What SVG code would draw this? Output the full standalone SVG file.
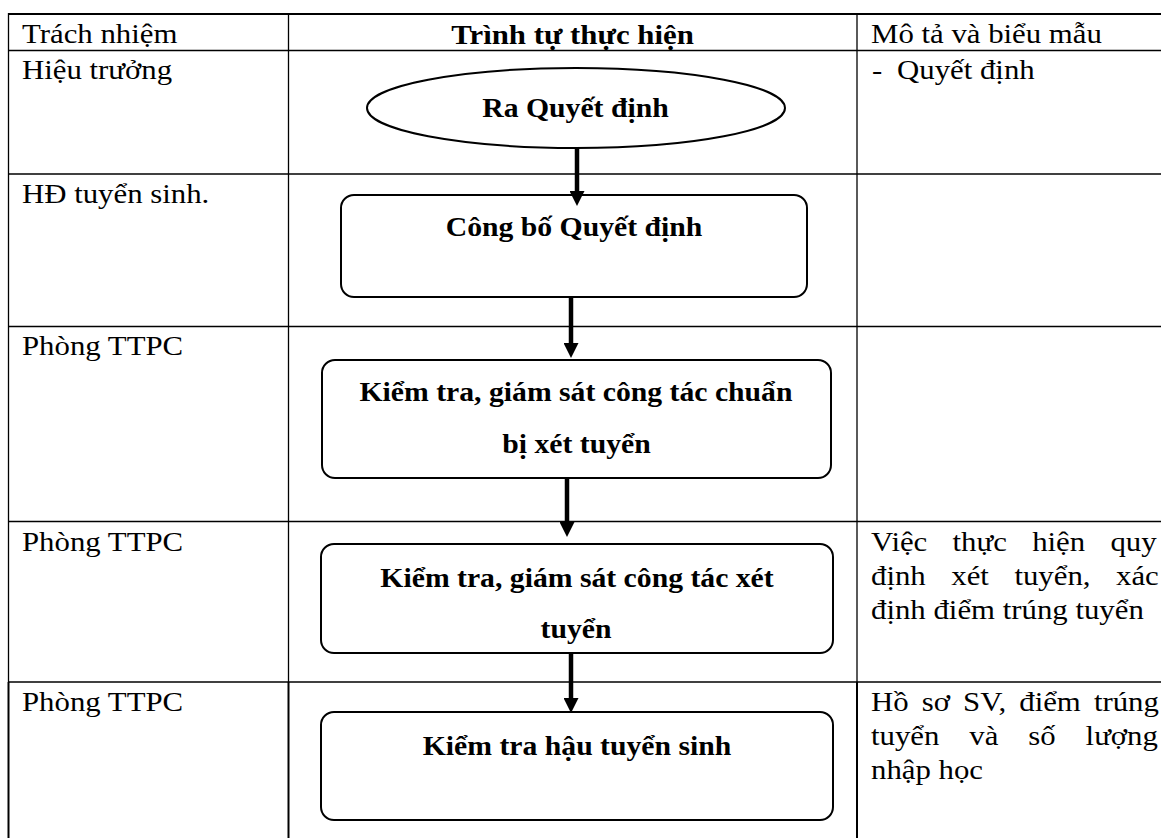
<svg xmlns="http://www.w3.org/2000/svg" width="1161" height="838" viewBox="0 0 1161 838">
  <style>
    .grid { stroke: #000; stroke-width: 1.3; fill: none; }
    .grid-heavy { stroke: #000; stroke-width: 2; fill: none; }
    .shape { fill: #fff; stroke: #000; stroke-width: 2; }
    .flow { stroke: #000; stroke-width: 4.5; fill: none; }
    .t { font-family: "Liberation Serif", "Times New Roman", "DejaVu Serif", serif; font-size: 28px; fill: #000; }
    .b { font-family: "Liberation Serif", "Times New Roman", "DejaVu Serif", serif; font-size: 27px; font-weight: bold; fill: #000; text-anchor: middle; }
    .hb { font-size: 28px; }
  </style>
  <defs>
    <marker id="arrowhead" markerUnits="userSpaceOnUse" viewBox="0 0 15 15" refX="1" refY="7.5" markerWidth="15" markerHeight="15" orient="auto">
      <path d="M0,0 L15,7.5 L0,15 Z" fill="#000"/>
    </marker>
  </defs>

  <rect x="0" y="0" width="1161" height="838" fill="#fff"/>

  <!-- table grid -->
  <g id="table">
    <line class="grid-heavy" x1="8" y1="14" x2="1161" y2="14"/>
    <line class="grid" x1="8" y1="50.5" x2="1161" y2="50.5"/>
    <line class="grid" x1="8" y1="174" x2="1161" y2="174"/>
    <line class="grid" x1="8" y1="326.5" x2="1161" y2="326.5"/>
    <line class="grid" x1="8" y1="521.5" x2="1161" y2="521.5"/>
    <line class="grid" x1="8" y1="682" x2="1161" y2="682"/>
    <line class="grid" x1="8.5" y1="13" x2="8.5" y2="682"/>
    <line class="grid" x1="288.5" y1="13" x2="288.5" y2="682"/>
    <line class="grid" x1="857" y1="13" x2="857" y2="682"/>
    <line class="grid-heavy" x1="8.5" y1="682" x2="8.5" y2="838"/>
    <line class="grid-heavy" x1="288.5" y1="682" x2="288.5" y2="838"/>
    <line class="grid-heavy" x1="857" y1="682" x2="857" y2="838"/>
  </g>

  <!-- column headers -->
  <g id="headers">
    <text class="t" transform="translate(22,43) scale(1.1,1)">Trách nhiệm</text>
    <text class="b hb" transform="translate(572.5,44) scale(1.1,1)">Trình tự thực hiện</text>
    <text class="t" transform="translate(871,43) scale(1.1,1)">Mô tả và biểu mẫu</text>
  </g>

  <!-- responsibility column -->
  <g id="roles">
    <text class="t" transform="translate(22,79) scale(1.1,1)">Hiệu trưởng</text>
    <text class="t" transform="translate(22,203) scale(1.1,1)">HĐ tuyển sinh.</text>
    <text class="t" transform="translate(22,355) scale(1.1,1)">Phòng TTPC</text>
    <text class="t" transform="translate(22,551) scale(1.1,1)">Phòng TTPC</text>
    <text class="t" transform="translate(22,711) scale(1.1,1)">Phòng TTPC</text>
  </g>

  <!-- description column -->
  <g id="notes">
    <text class="t" transform="translate(872,79) scale(1.1,1)">-</text>
    <text class="t" transform="translate(897,79) scale(1.1,1)">Quyết định</text>
    <text class="t" transform="translate(871,551) scale(1.1,1)" style="word-spacing:16px">Việc thực hiện quy</text>
    <text class="t" transform="translate(871,585) scale(1.1,1)" style="word-spacing:16.2px">định xét tuyển, xác</text>
    <text class="t" transform="translate(871,619) scale(1.1,1)">định điểm trúng tuyển</text>
    <text class="t" transform="translate(871,711) scale(1.1,1)" style="word-spacing:4.9px">Hồ sơ SV, điểm trúng</text>
    <text class="t" transform="translate(871,745) scale(1.1,1)" style="word-spacing:20.2px">tuyển và số lượng</text>
    <text class="t" transform="translate(871,779) scale(1.1,1)">nhập học</text>
  </g>

  <!-- process steps -->
  <g id="step-ra-quyet-dinh">
    <ellipse class="shape" cx="576" cy="108" rx="209" ry="40"/>
    <text class="b" transform="translate(575.5,117) scale(1.1,1)">Ra Quyết định</text>
  </g>

  <g id="step-cong-bo">
    <rect class="shape" x="341" y="195" width="466" height="102" rx="13" ry="13"/>
    <text class="b" transform="translate(574,236) scale(1.1,1)">Công bố Quyết định</text>
  </g>

  <g id="step-kiem-tra-chuan-bi">
    <rect class="shape" x="322" y="360" width="509" height="118" rx="13" ry="13"/>
    <text class="b" transform="translate(576,401) scale(1.1,1)">Kiểm tra, giám sát công tác chuẩn</text>
    <text class="b" transform="translate(576.5,453) scale(1.1,1)">bị xét tuyển</text>
  </g>

  <g id="step-kiem-tra-xet-tuyen">
    <rect class="shape" x="321" y="544" width="512" height="109" rx="13" ry="13"/>
    <text class="b" transform="translate(577,587) scale(1.1,1)">Kiểm tra, giám sát công tác xét</text>
    <text class="b" transform="translate(576,638) scale(1.1,1)">tuyển</text>
  </g>

  <g id="step-hau-tuyen-sinh">
    <rect class="shape" x="321" y="712" width="512" height="108" rx="13" ry="13"/>
    <text class="b" transform="translate(577,755) scale(1.1,1)">Kiểm tra hậu tuyển sinh</text>
  </g>

  <!-- connectors, drawn on top so arrowheads overlap the step borders -->
  <g id="connectors">
    <line class="flow" x1="577" y1="148" x2="577" y2="192" marker-end="url(#arrowhead)"/>
    <line class="flow" x1="571" y1="297" x2="571" y2="344" marker-end="url(#arrowhead)"/>
    <line class="flow" x1="567" y1="478" x2="567" y2="523" marker-end="url(#arrowhead)"/>
    <line class="flow" x1="571" y1="653" x2="571" y2="699" marker-end="url(#arrowhead)"/>
  </g>
</svg>
